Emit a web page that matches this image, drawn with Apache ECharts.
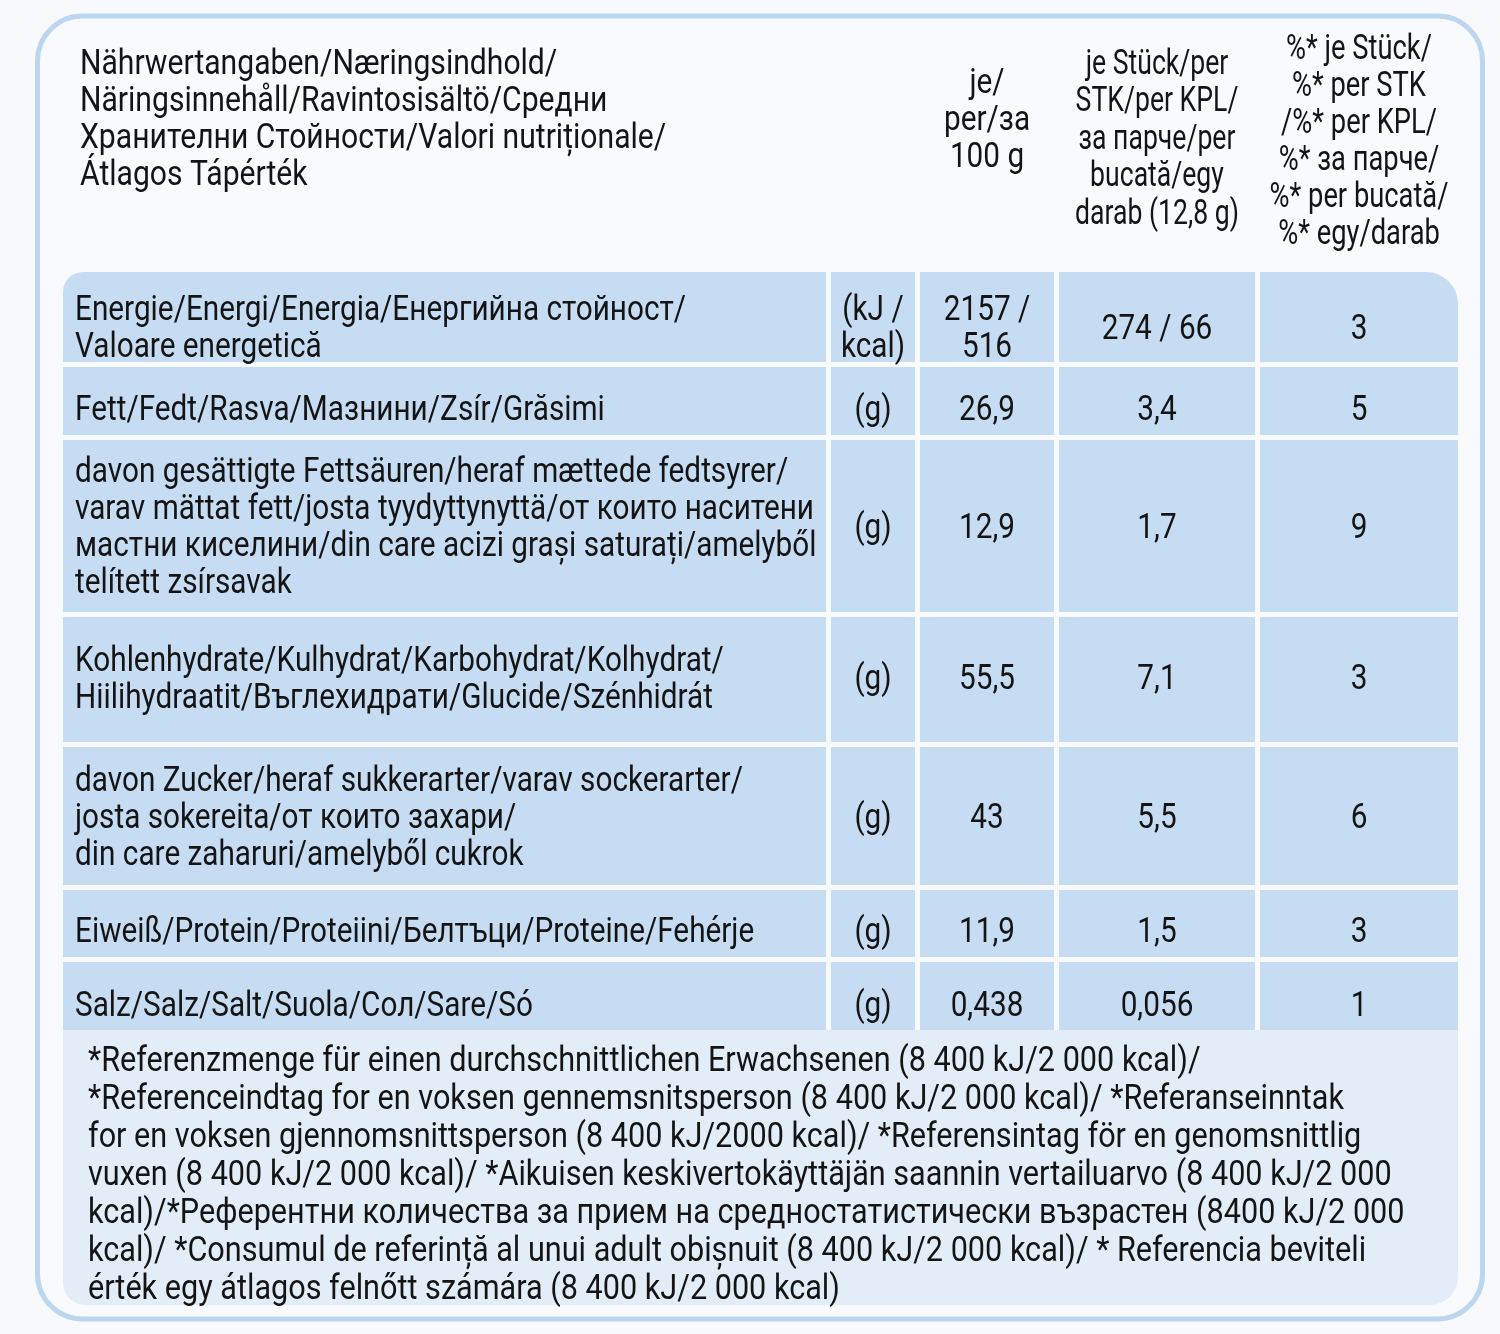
<!DOCTYPE html>
<html>
<head>
<meta charset="utf-8">
<script src="https://cdn.jsdelivr.net/npm/echarts@6/dist/echarts.min.js"></script>
<style>
html, body { margin: 0; padding: 0; background: #f7f9fc; }
#main { width: 1500px; height: 1334px; }
</style>
</head>
<body>
<div id="main"></div>
<script>
// Kopf der Tabelle
var headTitle = ['Nährwertangaben/Næringsindhold/', 'Näringsinnehåll/Ravintosisältö/Средни',
    'Хранителни Стойности/Valori nutriționale/', 'Átlagos Tápérték'];
var headPer100 = ['je/', 'per/за', '100 g'];
var headPerPiece = ['je Stück/per', 'STK/per KPL/', 'за парче/per', 'bucată/egy', 'darab (12,8 g)'];
var headPct = ['%* je Stück/', '%* per STK', '/%* per KPL/', '%* за парче/', '%* per bucată/', '%* egy/darab'];

// Zeilen
var nutrients = [
    ['Energie/Energi/Energia/Енергийна стойност/', 'Valoare energetică'],
    ['Fett/Fedt/Rasva/Мазнини/Zsír/Grăsimi'],
    ['davon gesättigte Fettsäuren/heraf mættede fedtsyrer/', 'varav mättat fett/josta tyydyttynyttä/от които наситени',
        'мастни киселини/din care acizi grași saturați/amelyből', 'telített zsírsavak'],
    ['Kohlenhydrate/Kulhydrat/Karbohydrat/Kolhydrat/', 'Hiilihydraatit/Въглехидрати/Glucide/Szénhidrát'],
    ['davon Zucker/heraf sukkerarter/varav sockerarter/', 'josta sokereita/от които захари/', 'din care zaharuri/amelyből cukrok'],
    ['Eiweiß/Protein/Proteiini/Белтъци/Proteine/Fehérje'],
    ['Salz/Salz/Salt/Suola/Сол/Sare/Só']
];
var units = [['(kJ /', 'kcal)'], ['(g)'], ['(g)'], ['(g)'], ['(g)'], ['(g)'], ['(g)']];
var per100g = [['2157 /', '516'], ['26,9'], ['12,9'], ['55,5'], ['43'], ['11,9'], ['0,438']];
var perPiece = ['274 / 66', '3,4', '1,7', '7,1', '5,5', '1,5', '0,056'];
var pctRI = ['3', '5', '9', '3', '6', '3', '1'];

var footnote = [
    '*Referenzmenge für einen durchschnittlichen Erwachsenen (8 400 kJ/2 000 kcal)/',
    '*Referenceindtag for en voksen gennemsnitsperson (8 400 kJ/2 000 kcal)/ *Referanseinntak',
    'for en voksen gjennomsnittsperson (8 400 kJ/2000 kcal)/ *Referensintag för en genomsnittlig',
    'vuxen (8 400 kJ/2 000 kcal)/ *Aikuisen keskivertokäyttäjän saannin vertailuarvo (8 400 kJ/2 000',
    'kcal)/*Референтни количества за прием на средностатистически възрастен (8400 kJ/2 000',
    'kcal)/ *Consumul de referință al unui adult obișnuit (8 400 kJ/2 000 kcal)/ * Referencia beviteli',
    'érték egy átlagos felnőtt számára (8 400 kJ/2 000 kcal)'
];

// Aufteilung (Achseneinheiten)
var colEdges = [[0, 763], [768, 852], [857, 991], [996, 1192], [1197, 1395]];
var rowEdges = [[242, 332], [337, 405], [410, 582], [587, 712], [717, 855], [860, 927], [932, 1000]];
var footEdge = [1000, 1275];
var textDy = [10, 7, 0, -2, 0, 7, 8];
var headCenterY = [88, 88, 107, 110];

var FONT = 'Roboto, "Noto Sans", sans-serif';
var SIZE = 35;
var SX = 0.85;
var INK = '#141414';
var CELL = '#c6dcf3';
var FOOT = '#e2edf8';

function txt(p, lines, align, lh, sx) {
    return {
        type: 'text', x: p[0], y: p[1] + 3, scaleX: sx || SX,
        style: {
            text: lines.join('\n'), x: 0, y: 0, fill: INK,
            fontFamily: FONT, fontSize: SIZE, lineHeight: lh || 37,
            align: align, verticalAlign: 'middle'
        }
    };
}
function mid(c) { return (colEdges[c][0] + colEdges[c][1]) / 2; }

var chart = echarts.init(document.getElementById('main'));
chart.setOption({
    backgroundColor: '#f7f9fc',
    animation: false,
    grid: { left: 63, right: 42, top: 30, bottom: 24 },
    xAxis: { type: 'value', min: 0, max: 1395, show: false },
    yAxis: { type: 'value', min: 0, max: 1280, inverse: true, show: false },
    graphic: [{
        type: 'rect', z: -10,
        shape: { x: 37.5, y: 16, width: 1445, height: 1303, r: 45 },
        style: { fill: '#f8fafd', stroke: '#bdd6ef', lineWidth: 5 }
    }],
    series: [{
        // Kopf
        type: 'custom', clip: false,
        data: [[0, 0]],
        renderItem: function (params, api) {
            return {
                type: 'group', children: [
                    txt(api.coord([17, headCenterY[0]]), headTitle, 'left', 37, 0.86),
                    txt(api.coord([mid(2), headCenterY[1]]), headPer100, 'center'),
                    txt(api.coord([mid(3), headCenterY[2]]), headPerPiece, 'center', 37.5, 0.76),
                    txt(api.coord([mid(4), headCenterY[3]]), headPct, 'center', 37, 0.78)
                ]
            };
        }
    }, {
        // Tabellenzeilen
        type: 'custom', clip: false,
        data: rowEdges.map(function (e, i) { return [0, e[0], i]; }),
        renderItem: function (params, api) {
            var i = api.value(2);
            var e = rowEdges[i];
            var children = [];
            colEdges.forEach(function (c, k) {
                var p0 = api.coord([c[0], e[0]]);
                var p1 = api.coord([c[1], e[1]]);
                var r = 0;
                if (i === 0 && k === 0) r = [20, 0, 0, 0];
                if (i === 0 && k === 4) r = [0, 32, 0, 0];
                children.push({
                    type: 'rect',
                    shape: { x: p0[0], y: p0[1], width: p1[0] - p0[0], height: p1[1] - p0[1], r: r },
                    style: { fill: CELL }
                });
            });
            var cy = (e[0] + e[1]) / 2 + textDy[i];
            children.push(txt(api.coord([12, cy]), nutrients[i], 'left'));
            children.push(txt(api.coord([mid(1), cy]), units[i], 'center'));
            children.push(txt(api.coord([mid(2), cy]), per100g[i], 'center'));
            children.push(txt(api.coord([mid(3), cy]), [perPiece[i]], 'center'));
            children.push(txt(api.coord([mid(4), cy]), [pctRI[i]], 'center'));
            return { type: 'group', children: children };
        }
    }, {
        // Fußnote
        type: 'custom', clip: false,
        data: [[0, footEdge[0]]],
        renderItem: function (params, api) {
            var p0 = api.coord([0, footEdge[0]]);
            var p1 = api.coord([1395, footEdge[1]]);
            return {
                type: 'group', children: [{
                    type: 'rect',
                    shape: { x: p0[0], y: p0[1], width: p1[0] - p0[0], height: p1[1] - p0[1], r: [0, 0, 28, 22] },
                    style: { fill: FOOT }
                },
                txt(api.coord([25, (footEdge[0] + footEdge[1]) / 2 + 6]), footnote, 'left', 38, 0.875)]
            };
        }
    }]
});
</script>
</body>
</html>
